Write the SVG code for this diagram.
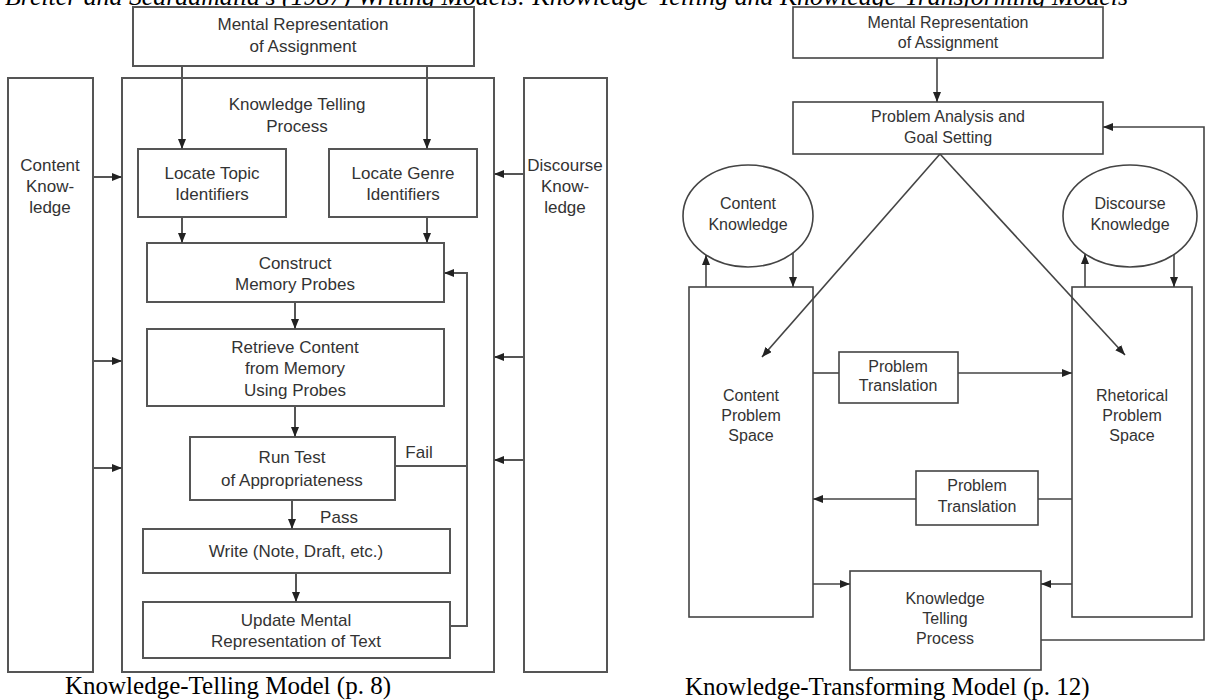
<svg xmlns="http://www.w3.org/2000/svg" width="1206" height="700" viewBox="0 0 1206 700">
<style>
.box{fill:#fff;stroke:#555;stroke-width:2}
.box2{fill:#fff;stroke:#444;stroke-width:1.6}
.ln{fill:none;stroke:#555;stroke-width:2}
.ln2{fill:none;stroke:#444;stroke-width:1.6}
.t{font-family:"Liberation Sans",Arial,sans-serif;font-size:17px;fill:#333;text-anchor:middle}
.t2{font-family:"Liberation Sans",Arial,sans-serif;font-size:16px;fill:#333;text-anchor:middle}
.cap{font-family:"Liberation Serif","Times New Roman",serif;font-size:25px;fill:#000}
</style>
<defs>
<marker id="ah" markerUnits="userSpaceOnUse" markerWidth="10" markerHeight="8" refX="10" refY="4" orient="auto">
<path d="M0,0 L10,4 L0,8 Z" fill="#222"/>
</marker>
</defs>
<rect width="1206" height="700" fill="#fff"/>
<text class="cap" x="5" y="5" font-style="italic" textLength="1123" lengthAdjust="spacingAndGlyphs">Breiter and Scardamalia's (1987) Writing Models: Knowledge-Telling and Knowledge-Transforming Models</text>

<!-- LEFT: Knowledge-Telling Model -->
<g id="kt-outer"><rect class="box" x="122" y="78" width="372" height="594"/>
<text class="t" x="297" y="110">Knowledge Telling</text><text class="t" x="297" y="132">Process</text></g>
<g id="content-knowledge"><rect class="box" x="8" y="78" width="85" height="594"/>
<text class="t" x="50" y="171">Content</text><text class="t" x="50" y="192">Know-</text><text class="t" x="50" y="213">ledge</text></g>
<g id="discourse-knowledge"><rect class="box" x="524" y="78" width="83" height="594"/>
<text class="t" x="565" y="171">Discourse</text><text class="t" x="565" y="192">Know-</text><text class="t" x="565" y="213">ledge</text></g>
<g id="mental-rep-l"><rect class="box" x="133" y="7" width="341" height="59"/>
<text class="t" x="303" y="30">Mental Representation</text><text class="t" x="303" y="52">of Assignment</text></g>
<g id="locate-topic"><rect class="box" x="138" y="149" width="148" height="68"/>
<text class="t" x="212" y="179">Locate Topic</text><text class="t" x="212" y="200">Identifiers</text></g>
<g id="locate-genre"><rect class="box" x="329" y="149" width="148" height="68"/>
<text class="t" x="403" y="179">Locate Genre</text><text class="t" x="403" y="200">Identifiers</text></g>
<g id="construct"><rect class="box" x="147" y="243" width="297" height="59"/>
<text class="t" x="295" y="269">Construct</text><text class="t" x="295" y="290">Memory Probes</text></g>
<g id="retrieve"><rect class="box" x="147" y="329" width="297" height="77"/>
<text class="t" x="295" y="353">Retrieve Content</text><text class="t" x="295" y="374">from Memory</text><text class="t" x="295" y="396">Using Probes</text></g>
<g id="run-test"><rect class="box" x="190" y="437" width="205" height="63"/>
<text class="t" x="292" y="463">Run Test</text><text class="t" x="292" y="486">of Appropriateness</text></g>
<g id="write"><rect class="box" x="143" y="529" width="307" height="44"/>
<text class="t" x="296" y="557">Write (Note, Draft, etc.)</text></g>
<g id="update"><rect class="box" x="143" y="602" width="307" height="56"/>
<text class="t" x="296" y="626">Update Mental</text><text class="t" x="296" y="647">Representation of Text</text></g>

<g id="connectors-left">
<line class="ln" x1="182" y1="66" x2="182" y2="149" marker-end="url(#ah)"/>
<line class="ln" x1="427" y1="66" x2="427" y2="149" marker-end="url(#ah)"/>
<line class="ln" x1="182" y1="217" x2="182" y2="243" marker-end="url(#ah)"/>
<line class="ln" x1="427" y1="217" x2="427" y2="243" marker-end="url(#ah)"/>
<line class="ln" x1="295" y1="302" x2="295" y2="329" marker-end="url(#ah)"/>
<line class="ln" x1="295" y1="406" x2="295" y2="437" marker-end="url(#ah)"/>
<line class="ln" x1="292" y1="500" x2="292" y2="529" marker-end="url(#ah)"/>
<line class="ln" x1="296" y1="573" x2="296" y2="602" marker-end="url(#ah)"/>
<line class="ln" x1="395" y1="466" x2="467" y2="466"/>
<polyline class="ln" points="450,626 467,626 467,273 444,273" marker-end="url(#ah)"/>
<line class="ln" x1="93" y1="177" x2="122" y2="177" marker-end="url(#ah)"/>
<line class="ln" x1="93" y1="361" x2="122" y2="361" marker-end="url(#ah)"/>
<line class="ln" x1="93" y1="468" x2="122" y2="468" marker-end="url(#ah)"/>
<line class="ln" x1="524" y1="174" x2="494" y2="174" marker-end="url(#ah)"/>
<line class="ln" x1="524" y1="357" x2="494" y2="357" marker-end="url(#ah)"/>
<line class="ln" x1="524" y1="460" x2="494" y2="460" marker-end="url(#ah)"/>
<text class="t" x="419" y="458">Fail</text>
<text class="t" x="339" y="523">Pass</text>
</g>
<text class="cap" x="65" y="694">Knowledge-Telling Model (p. 8)</text>

<!-- RIGHT: Knowledge-Transforming Model -->
<g id="mental-rep-r"><rect class="box2" x="793" y="7" width="310" height="51"/>
<text class="t2" x="948" y="28">Mental Representation</text><text class="t2" x="948" y="48">of Assignment</text></g>
<g id="problem-analysis"><rect class="box2" x="793" y="102" width="310" height="52"/>
<text class="t2" x="948" y="122">Problem Analysis and</text><text class="t2" x="948" y="143">Goal Setting</text></g>
<g id="content-knowledge-r"><ellipse class="box2" cx="748" cy="216" rx="65" ry="51"/>
<text class="t2" x="748" y="209">Content</text><text class="t2" x="748" y="230">Knowledge</text></g>
<g id="discourse-knowledge-r"><ellipse class="box2" cx="1130" cy="216" rx="67" ry="51"/>
<text class="t2" x="1130" y="209">Discourse</text><text class="t2" x="1130" y="230">Knowledge</text></g>
<g id="content-space"><rect class="box2" x="689" y="287" width="124" height="330"/>
<text class="t2" x="751" y="401">Content</text><text class="t2" x="751" y="421">Problem</text><text class="t2" x="751" y="441">Space</text></g>
<g id="rhetorical-space"><rect class="box2" x="1072" y="287" width="120" height="330"/>
<text class="t2" x="1132" y="401">Rhetorical</text><text class="t2" x="1132" y="421">Problem</text><text class="t2" x="1132" y="441">Space</text></g>
<g id="translation-1"><rect class="box2" x="839" y="352" width="119" height="51"/>
<text class="t2" x="898" y="372">Problem</text><text class="t2" x="898" y="391">Translation</text></g>
<g id="translation-2"><rect class="box2" x="916" y="471" width="122" height="54"/>
<text class="t2" x="977" y="491">Problem</text><text class="t2" x="977" y="512">Translation</text></g>
<g id="kt-process"><rect class="box2" x="850" y="571" width="191" height="99"/>
<text class="t2" x="945" y="604">Knowledge</text><text class="t2" x="945" y="624">Telling</text><text class="t2" x="945" y="644">Process</text></g>

<g id="connectors-right">
<line class="ln2" x1="937" y1="58" x2="937" y2="102" marker-end="url(#ah)"/>
<line class="ln2" x1="940" y1="154" x2="762" y2="357" marker-end="url(#ah)"/>
<line class="ln2" x1="940" y1="154" x2="1125" y2="355" marker-end="url(#ah)"/>
<line class="ln2" x1="706" y1="287" x2="706" y2="255" marker-end="url(#ah)"/>
<line class="ln2" x1="793" y1="253" x2="793" y2="287" marker-end="url(#ah)"/>
<line class="ln2" x1="1085" y1="287" x2="1085" y2="254" marker-end="url(#ah)"/>
<line class="ln2" x1="1174" y1="254" x2="1174" y2="287" marker-end="url(#ah)"/>
<line class="ln2" x1="813" y1="373" x2="839" y2="373"/>
<line class="ln2" x1="958" y1="373" x2="1072" y2="373" marker-end="url(#ah)"/>
<line class="ln2" x1="1072" y1="499" x2="1038" y2="499"/>
<line class="ln2" x1="916" y1="499" x2="813" y2="499" marker-end="url(#ah)"/>
<line class="ln2" x1="813" y1="584" x2="850" y2="584" marker-end="url(#ah)"/>
<line class="ln2" x1="1072" y1="584" x2="1041" y2="584" marker-end="url(#ah)"/>
<polyline class="ln2" points="1041,640 1204,640 1204,127 1103,127" marker-end="url(#ah)"/>
</g>
<text class="cap" x="685" y="695">Knowledge-Transforming Model (p. 12)</text>
</svg>
